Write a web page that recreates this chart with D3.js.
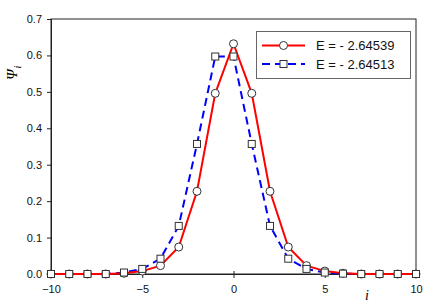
<!DOCTYPE html>
<html><head><meta charset="utf-8">
<script src="https://cdn.jsdelivr.net/npm/d3@7"></script>
<style>body{margin:0;background:#fff}svg{display:block}</style>
</head><body>
<svg id="c" width="436" height="308"></svg>
<script>
const sites = [-10,-9,-8,-7,-6,-5,-4,-3,-2,-1,0,1,2,3,4,5,6,7,8,9,10];
const psiRed = [0,0,0,0,0.002,0.008,0.023,0.074,0.227,0.496,0.632,0.496,0.227,0.074,0.023,0.008,0.002,0,0,0,0];
const psiBlue = [0,0,0,0,0.004,0.014,0.042,0.132,0.357,0.597,0.597,0.357,0.132,0.042,0.014,0.004,0.001,0,0,0,0];
const xTicks = [-10,-5,0,5,10];
const yTicks = [0,0.1,0.2,0.3,0.4,0.5,0.6,0.7];
const legendLabels = ["E = - 2.64539","E = - 2.64513"];

const svg = d3.select("#c");
const L=51,R=416,T=19,B=274;
const x = d3.scaleLinear().domain([-10,10]).range([L,R]);
const y = d3.scaleLinear().domain([0,0.7]).range([B,T]);
const font = "Arial, 'Liberation Sans', sans-serif";

// frame
svg.append("rect").attr("x",L).attr("y",T).attr("width",R-L).attr("height",B-T)
  .attr("fill","none").attr("stroke","#222").attr("stroke-width",1);

const xa = svg.append("g").attr("transform",`translate(0,${B})`)
  .call(d3.axisBottom(x).tickValues(xTicks).tickSize(4).tickPadding(7).tickFormat(d3.format("d")));
const ya = svg.append("g").attr("transform",`translate(${L},0)`)
  .call(d3.axisLeft(y).tickValues(yTicks).tickSize(4).tickPadding(5).tickFormat(d3.format(".1f")));
[xa,ya].forEach(g=>{
  g.select(".domain").attr("stroke","#222");
  g.selectAll("line").attr("stroke","#222");
  g.selectAll("text").attr("font-family",font).attr("font-size",11).attr("fill","#111");
});
xa.selectAll("line").attr("y1",-3).attr("y2",4);

// axis labels
svg.append("text").attr("x",367).attr("y",300).attr("font-family","'Times New Roman','Liberation Serif',serif")
  .attr("font-style","italic").attr("font-size",14).attr("text-anchor","middle").text("i");
const yl = svg.append("text").attr("transform","translate(17,80) rotate(-90)")
  .attr("font-family","'Times New Roman','Liberation Serif',serif").attr("font-style","italic")
  .attr("font-size",15).attr("text-anchor","start");
yl.append("tspan").text("\u03A8");
yl.append("tspan").attr("font-size",10).attr("dy",4).attr("dx",1).text("i");

const line = d3.line().x((d,i)=>x(sites[i])).y(d=>y(d));
svg.append("path").datum(psiBlue).attr("d",line).attr("fill","none").attr("stroke","#0000ff")
  .attr("stroke-width",2).attr("stroke-dasharray","8,5");
svg.append("path").datum(psiRed).attr("d",line).attr("fill","none").attr("stroke","#ff0000")
  .attr("stroke-width",2);

svg.append("g").selectAll("circle").data(psiRed).join("circle")
  .attr("cx",(d,i)=>x(sites[i])).attr("cy",d=>y(d)).attr("r",4)
  .attr("fill","#fff").attr("stroke","#333").attr("stroke-width",1);
svg.append("g").selectAll("rect").data(psiBlue).join("rect")
  .attr("x",(d,i)=>x(sites[i])-3.5).attr("y",d=>y(d)-3.5).attr("width",7).attr("height",7)
  .attr("fill","#fff").attr("stroke","#333").attr("stroke-width",1);

// legend
const lg = svg.append("g");
lg.append("rect").attr("x",256.5).attr("y",31.5).attr("width",154).attr("height",47)
  .attr("fill","#fff").attr("stroke","#666").attr("stroke-width",1);
const rows=[{c:"#ff0000",dash:null,m:"circle",y:45.5},{c:"#0000ff",dash:"8,5",m:"square",y:64}];
rows.forEach((r,k)=>{
  lg.append("line").attr("x1",262).attr("x2",305).attr("y1",r.y).attr("y2",r.y)
    .attr("stroke",r.c).attr("stroke-width",2).attr("stroke-dasharray",r.dash);
  if(r.m==="circle") lg.append("circle").attr("cx",283.5).attr("cy",r.y).attr("r",4)
    .attr("fill","#fff").attr("stroke","#333");
  else lg.append("rect").attr("x",280).attr("y",r.y-3.5).attr("width",7).attr("height",7)
    .attr("fill","#fff").attr("stroke","#333");
  lg.append("text").attr("x",316).attr("y",r.y+4.5).attr("font-family",font).attr("font-size",13)
    .attr("fill","#111").text(legendLabels[k]);
});
</script>
</body></html>
